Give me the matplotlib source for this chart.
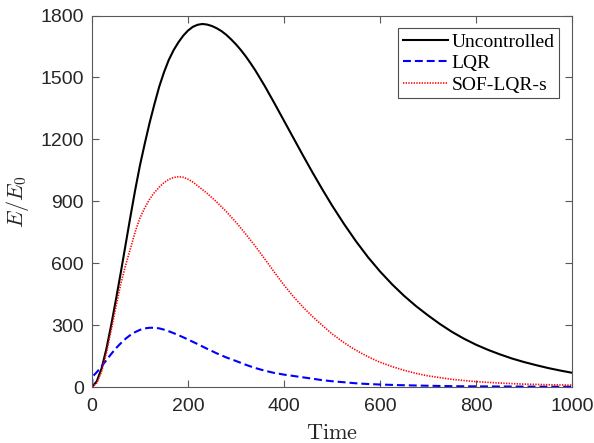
import matplotlib
matplotlib.use('Agg')
import matplotlib.pyplot as plt
import numpy as np

plt.rcParams['mathtext.fontset'] = 'cm'

# values
t_unc = [0, 10, 20, 30, 40, 50, 60, 70, 80, 90, 100, 110, 120, 130, 140, 150, 160, 170,
         180, 190, 200, 210, 220, 230, 240, 250, 260, 270, 280, 290, 300, 310, 320, 330,
         340, 360, 380, 400, 420, 440, 460, 480, 500, 525, 550, 575, 600, 625, 650, 675,
         700, 725, 750, 775, 800, 825, 850, 875, 900, 925, 950, 975, 1000]
e_unc = [0, 28, 90, 185, 300, 425, 555, 690, 825, 955, 1075, 1180, 1280, 1370, 1455, 1525,
         1585, 1632, 1670, 1702, 1727, 1745, 1755, 1759, 1756, 1749, 1738, 1724, 1706, 1684,
         1660, 1633, 1603, 1570, 1535, 1458, 1375, 1290, 1205, 1120, 1037, 957, 880, 790,
         706, 629, 560, 498, 442, 392, 347, 305, 267, 234, 205, 180, 158, 138, 121, 106, 92,
         80, 69]

t_lqr = [0, 1, 10, 20, 30, 40, 50, 60, 70, 80, 90, 100, 110, 120, 130, 140, 150, 160, 170,
         180, 190, 200, 220, 240, 260, 280, 300, 320, 340, 360, 380, 400, 430, 460, 480,
         500, 520, 550, 570, 600, 640, 700, 750, 800, 900, 1000]
e_lqr = [0, 50, 72, 100, 130, 160, 188, 212, 234, 252, 266, 277, 284, 287, 287, 284, 278,
         270, 261, 251, 241, 230, 208, 185, 163, 143, 126, 108, 92, 79, 68, 60, 50, 40, 33,
         28, 24, 18, 15, 12, 9, 6, 4, 3, 2, 1]

t_sof = [0, 10, 20, 30, 40, 50, 60, 70, 80, 90, 100, 110, 120, 130, 140, 150, 160, 170,
         180, 190, 200, 210, 220, 240, 260, 280, 300, 320, 340, 360, 380, 400, 420, 440,
         460, 480, 500, 520, 540, 560, 580, 600, 625, 650, 675, 700, 750, 800, 850, 900,
         950, 1000]
e_sof = [0, 20, 75, 165, 275, 390, 500, 590, 670, 752, 820, 868, 910, 942, 968, 990, 1006,
         1015, 1019, 1016, 1007, 993, 975, 938, 896, 849, 798, 742, 683, 620, 556, 494, 437,
         386, 340, 298, 258, 223, 192, 165, 141, 120, 99, 81, 66, 54, 37, 26, 19, 14, 11, 9]

labels = ['Uncontrolled', 'LQR', 'SOF-LQR-s']

fig = plt.figure(figsize=(5.94, 4.43), dpi=100)
ax = fig.add_axes([92/594, 1 - 387/443, 480/594, 371.5/443])

ax.plot(t_unc, e_unc, color='k', lw=1.5, label=labels[0])
ax.plot(t_lqr, e_lqr, color='b', lw=1.5, dashes=(3.8, 1.9), label=labels[1])
ax.plot(t_sof, e_sof, color='r', lw=1.2, dashes=(0.8, 0.8), label=labels[2])

ax.set_xlim(0, 1000)
ax.set_ylim(0, 1800)
ax.set_xticks(np.arange(0, 1001, 200))
ax.set_yticks(np.arange(0, 1801, 300))

gray = '0.15'
for s in ax.spines.values():
    s.set_color('0.35')
    s.set_linewidth(0.8)
ax.tick_params(direction='in', length=5, width=0.8, color='0.35',
               top=True, right=True, labelcolor=gray)
ax.tick_params(axis='x', pad=8)
ax.tick_params(axis='y', pad=6)
for lab in ax.get_xticklabels() + ax.get_yticklabels():
    lab.set_family('Liberation Sans')
    lab.set_fontsize(14)

ax.set_xlabel(r'$\mathrm{Time}$', fontsize=16, color=gray, labelpad=6)
ax.set_ylabel(r'$E/E_0$', fontsize=16, color=gray)
ax.yaxis.set_label_coords(-0.128, 0.5)

leg = ax.legend(loc='upper right', prop={'family': 'Liberation Serif', 'size': 14},
                fancybox=False, edgecolor='0.3', framealpha=1,
                handlelength=2.3, handletextpad=0.2, labelspacing=0.2,
                borderpad=0.25, borderaxespad=0.65)
leg.get_frame().set_linewidth(0.8)

fig.savefig('out.png', dpi=100)
